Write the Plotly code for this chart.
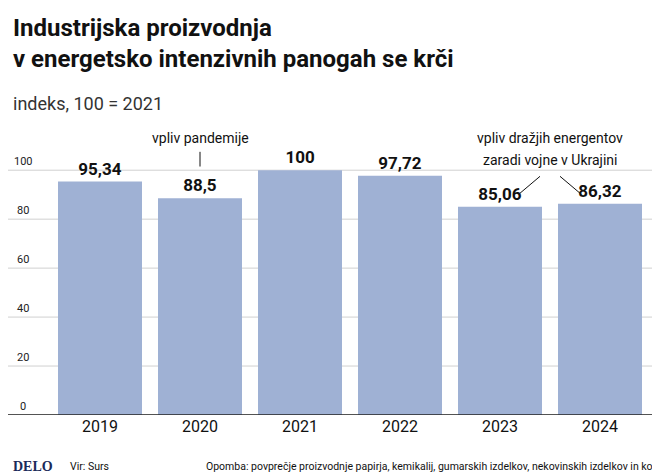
import plotly.graph_objects as go

years = ["2019", "2020", "2021", "2022", "2023", "2024"]
values = [95.34, 88.5, 100, 97.72, 85.06, 86.32]
labels = ["95,34", "88,5", "100", "97,72", "85,06", "86,32"]
grid_vals = [0, 20, 40, 60, 80, 100]

FONT = "Roboto, sans-serif"
BAR = "#9fb1d4"

xs = list(range(len(years)))

fig = go.Figure()
fig.add_trace(go.Bar(
    x=xs, y=values, marker=dict(color=BAR, line=dict(width=0)),
    text=["<b>" + t + "</b>" for t in labels], textposition="outside", cliponaxis=False,
    textfont=dict(family=FONT, size=17, color="#111111"),
    hoverinfo="skip", width=0.84
))

# gridlines across the full width + tick labels above them
for g in grid_vals:
    fig.add_shape(type="line", xref="paper", yref="y", x0=-0.1, x1=1.04, y0=g, y1=g,
                  line=dict(color="#d0d0d0", width=1), layer="below")
    fig.add_annotation(xref="paper", yref="y", x=-0.045, y=g, text=str(g),
                       showarrow=False, yanchor="bottom", xanchor="center",
                       font=dict(family=FONT, size=11, color="#222"))
fig.add_shape(type="line", xref="paper", yref="y", x0=-0.1, x1=1.04, y0=0, y1=0,
              line=dict(color="#222", width=1.5))

# callouts
fig.add_annotation(x=1, y=113, text="vpliv pandemije", showarrow=False,
                   font=dict(family=FONT, size=14, color="#111"))
fig.add_shape(type="line", x0=1, x1=1, y0=107.5, y1=101.5, line=dict(color="#111", width=1))
fig.add_annotation(x=4.5, y=113, text="vpliv dražjih energentov", showarrow=False,
                   font=dict(family=FONT, size=14, color="#111"))
fig.add_annotation(x=4.5, y=104, text="zaradi vojne v Ukrajini", showarrow=False,
                   font=dict(family=FONT, size=14, color="#111"))
fig.add_shape(type="line", x0=4.4, x1=4.2, y0=97.5, y1=90.6, line=dict(color="#111", width=1))
fig.add_shape(type="line", x0=4.6, x1=4.8, y0=97.5, y1=90.6, line=dict(color="#111", width=1))

# title, subtitle
fig.add_annotation(xref="paper", yref="paper", x=-0.065, y=(407 - 4) / 306, xanchor="left",
                   yanchor="top", align="left", showarrow=False,
                   text="<b>Industrijska proizvodnja<br>v energetsko intenzivnih panogah se krči</b>",
                   font=dict(family=FONT, size=24, color="#111"))
fig.add_annotation(xref="paper", yref="paper", x=-0.065, y=(407 - 95) / 306, xanchor="left",
                   yanchor="middle", showarrow=False, text="indeks, 100 = 2021",
                   font=dict(family=FONT, size=18, color="#333"))

# footer
fig.add_annotation(xref="paper", yref="paper", x=-0.065, y=(407 - 458) / 306, xanchor="left",
                   yanchor="middle", showarrow=False, text="<b>DELO</b>",
                   font=dict(family="Liberation Serif, serif", size=14, color="#1a2a5a"))
fig.add_annotation(xref="paper", yref="paper", x=0.03, y=(407 - 458) / 306, xanchor="left",
                   yanchor="middle", showarrow=False, text="Vir: Surs",
                   font=dict(family=FONT, size=10.5, color="#111"))
fig.add_annotation(xref="paper", yref="paper", x=1.03, y=(407 - 458) / 306, xanchor="right",
                   yanchor="middle", showarrow=False,
                   text="Opomba: povprečje proizvodnje papirja, kemikalij, gumarskih izdelkov, nekovinskih izdelkov in kovin",
                   font=dict(family=FONT, size=10.5, color="#111"))

fig.update_layout(
    width=660, height=472, margin=dict(l=42, r=18, t=101, b=65),
    paper_bgcolor="white", plot_bgcolor="white", showlegend=False,
    xaxis=dict(range=[-0.5, 5.5], tickvals=xs, ticktext=years, showgrid=False,
               zeroline=False, showline=False, ticks="",
               tickfont=dict(family=FONT, size=16, color="#111")),
    yaxis=dict(range=[0, 125], showgrid=False, zeroline=False, showticklabels=False),
)

fig.write_html("out.html")
